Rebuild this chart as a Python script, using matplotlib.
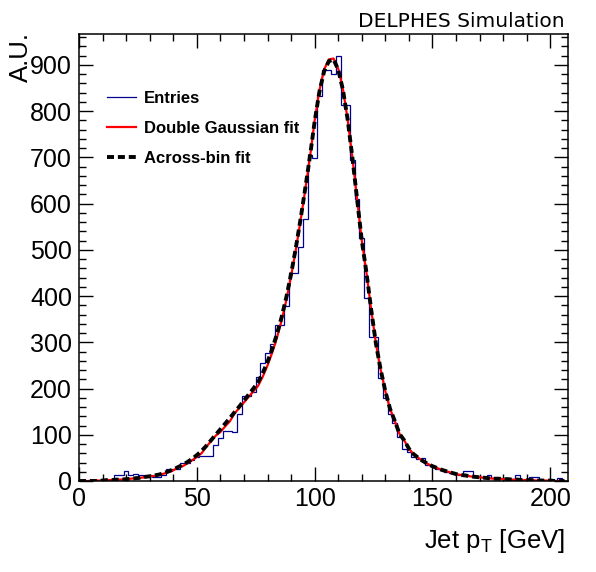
import numpy as np
import matplotlib
matplotlib.use("Agg")
import matplotlib.pyplot as plt
from matplotlib.ticker import MultipleLocator

plt.rcParams['font.family'] = ['Liberation Sans', 'DejaVu Sans']
plt.rcParams['mathtext.fontset'] = 'custom'
plt.rcParams['mathtext.rm'] = 'Liberation Sans'
plt.rcParams['mathtext.it'] = 'Liberation Sans:italic'

# histogram: 2 GeV bins, edges 1, 3, ..., 207
bin_edges = np.arange(1, 208, 2)
entries = [0, 0, 0, 1, 1, 1, 2, 14, 14, 21,
           14, 15, 14, 11, 12, 9, 9, 13, 27, 27,
           27, 38, 38, 45, 51, 54, 54, 54, 78, 92,
           109, 109, 107, 146, 184, 183, 193, 225, 255, 276,
           296, 337, 337, 379, 451, 451, 507, 566, 705, 698,
           833, 889, 889, 880, 920, 813, 813, 694, 611, 525,
           395, 312, 312, 222, 179, 146, 125, 96, 69, 63,
           51, 48, 50, 35, 32, 27, 24, 20, 17, 15,
           14, 22, 22, 9, 8, 9, 14, 6, 5, 6,
           5, 3, 13, 3, 4, 9, 9, 1, 0, 1,
           0, 6, 0]

# fit curves sampled every 2 GeV from 0 to 206
fit_x = np.arange(0, 207, 2)
double_gauss = [0, 0, 0, 1, 1, 1, 2, 2, 3, 3,
                4, 5, 6, 7, 8, 10, 11, 13, 16, 19,
                23, 29, 32, 38, 45, 52, 60, 74, 86, 98,
                106, 118, 129, 146, 158, 170, 182, 194, 206, 226,
                250, 278, 310, 348, 392, 443, 500, 563, 630, 700,
                780, 845, 890, 912, 914, 892, 848, 782, 700, 610,
                520, 450, 370, 297, 241, 194, 156, 130, 102, 88,
                70, 58, 50, 43, 37, 32, 28, 24, 21, 18,
                15, 13, 12, 10, 9, 8, 7, 6, 5, 5,
                4, 4, 3, 3, 2, 2, 2, 1, 1, 1,
                1, 0, 0, 0]
across_bin = [0, 0, 0, 0, 0, 1, 2, 2, 3, 3,
              4, 5, 6, 7, 9, 10, 12, 14, 17, 21,
              25, 30, 35, 41, 48, 56, 65, 76, 88, 100,
              112, 124, 136, 149, 161, 174, 187, 200, 214, 234,
              258, 286, 318, 355, 398, 448, 504, 566, 633, 702,
              778, 842, 886, 908, 912, 890, 846, 782, 700, 610,
              520, 450, 370, 297, 241, 194, 156, 130, 102, 88,
              70, 58, 50, 43, 37, 32, 28, 24, 21, 18,
              15, 13, 12, 10, 9, 8, 7, 6, 5, 5,
              4, 4, 3, 3, 2, 2, 2, 1, 1, 1,
              1, 0, 0, 0]

fig = plt.figure(figsize=(5.96, 5.72), dpi=100)
ax = fig.add_axes([79/596, 1 - 481/572, (568 - 79)/596, (481 - 34)/572])

ax.stairs(entries, bin_edges, color='#00008f', lw=0.9, label='Entries')
ax.plot(fit_x, double_gauss, color='red', lw=1.6, label='Double Gaussian fit')
ax.plot(fit_x, across_bin, color='black', lw=2.8, dashes=(1.8, 1.0),
        label='Across-bin fit')

ax.set_xlim(0, 207.5)
ax.set_ylim(0, 967)

ax.xaxis.set_major_locator(MultipleLocator(50))
ax.xaxis.set_minor_locator(MultipleLocator(10))
ax.yaxis.set_major_locator(MultipleLocator(100))
ax.yaxis.set_minor_locator(MultipleLocator(20))
ax.tick_params(which='both', direction='in', top=True, right=True, width=1.0,
               labelsize=18)
ax.tick_params(which='major', length=10)
ax.tick_params(which='minor', length=5)
ax.tick_params(axis='x', pad=4)
ax.tick_params(axis='y', pad=5)
for s in ax.spines.values():
    s.set_linewidth(1.1)

fig.text(21/596, 1 - 32/572, 'A.U.', rotation=90, ha='center', va='top',
         fontsize=18.5)
fig.text(565/596, 1 - 548/572, r'Jet p$_{\mathrm{T}}$ [GeV]', ha='right',
         va='baseline', fontsize=18.5)
fig.text(565/596, 1 - 27/572, 'DELPHES Simulation', ha='right', va='baseline',
         fontsize=14.5, family='DejaVu Sans')

ax.legend(loc='upper left', bbox_to_anchor=(107/596, 1 - 91/572),
          bbox_transform=fig.transFigure, frameon=False, borderpad=0,
          borderaxespad=0, handlelength=1.75, handletextpad=0.45,
          labelspacing=0.9, prop={'weight': 'bold', 'size': 12})

fig.savefig('out.png', dpi=100)
